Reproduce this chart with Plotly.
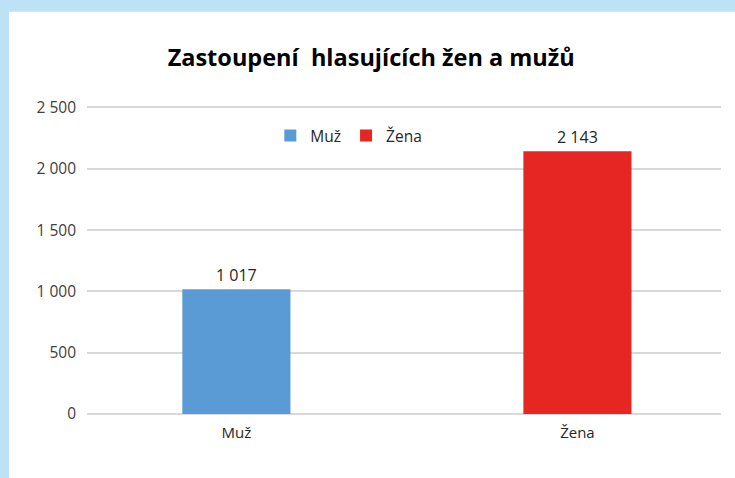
import plotly.graph_objects as go

categories = ["Muž", "Žena"]
values = [1017, 2143]
colors = ["#5B9BD5", "#E52623"]
y_ticks = [0, 500, 1000, 1500, 2000, 2500]
title_text = "Zastoupení  hlasujících žen a mužů"

fig = go.Figure()
for cat, val, col in zip(categories, values, colors):
    fig.add_trace(go.Bar(
        x=[cat], y=[val], name=cat, marker_color=col, marker_line_width=0,
        width=0.317, texttemplate="%{y:,}", textposition="outside",
        textfont=dict(family="Open Sans", size=16, color="#262626"),
        cliponaxis=False,
    ))

fig.update_layout(
    width=735, height=478,
    margin=dict(l=87, r=14, t=105, b=64),
    paper_bgcolor="#BDE2F5",
    plot_bgcolor="rgba(0,0,0,0)",
    separators=", ",
    barmode="overlay",
    font=dict(family="Open Sans", size=15, color="#404040"),
    title=dict(text=title_text, x=0.505, xanchor="center", y=1 - 58 / 478,
               yanchor="middle", yref="container",
               font=dict(family="Open Sans", size=23.5, color="#000000", weight="bold")),
    legend=dict(orientation="h", x=0.413, xanchor="center", y=0.90, yanchor="middle",
                font=dict(family="Open Sans", size=15.5, color="#262626"),
                bgcolor="rgba(0,0,0,0)", itemwidth=30),
    showlegend=True,
    shapes=[dict(type="rect", xref="paper", yref="paper", x0=(9 - 87) / 634, x1=1.2,
                 y0=-0.5, y1=(414.3 - 12) / 309, fillcolor="#FFFFFF",
                 line_width=0, layer="below")],
)
fig.update_yaxes(range=[0, 2520], tickvals=y_ticks, tickformat=",d",
                 showgrid=True, gridcolor="#D9D9D9", gridwidth=1.5,
                 zeroline=True, zerolinecolor="#D9D9D9", zerolinewidth=1.5,
                 ticklabelstandoff=10, showline=False,
                 tickfont=dict(size=15.5, color="#404040"))
fig.update_xaxes(range=[-0.438, 1.421], showgrid=False, showline=False,
                 ticklabelstandoff=8, tickfont=dict(color="#262626", size=15))

fig.write_html("out.html", config={"displayModeBar": False},
               post_script="document.body.style.margin='0';")
